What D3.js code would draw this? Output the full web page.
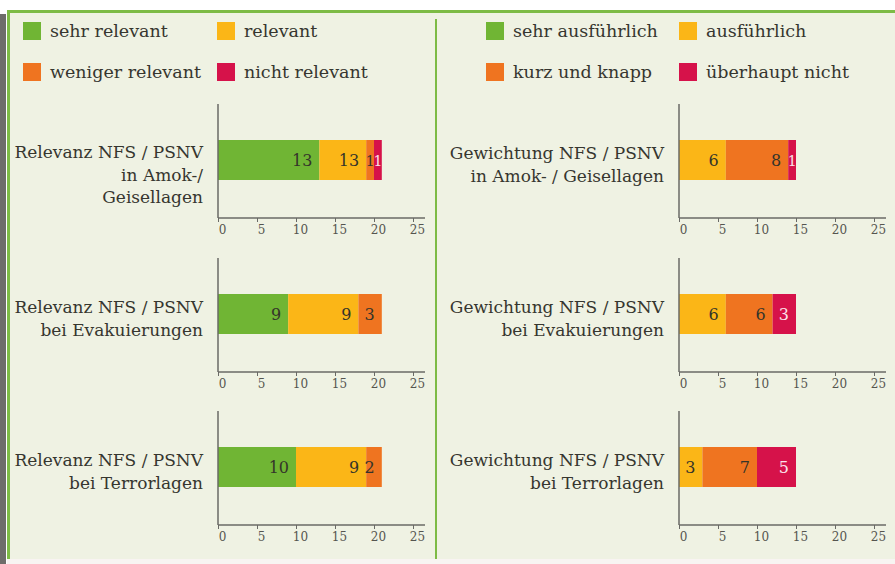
<!DOCTYPE html>
<html>
<head>
<meta charset="utf-8">
<script src="https://cdn.jsdelivr.net/npm/d3@7"></script>
<style>
    body { margin: 0; background: #ffffff; }
    svg { display: block; }
    text { font-family: "DejaVu Serif", serif; }
</style>
</head>
<body>
<div id="chart"></div>
<script>
// legend entries for both panels
var legendLeft = ["sehr relevant", "relevant", "weniger relevant", "nicht relevant"];
var legendRight = ["sehr ausführlich", "ausführlich", "kurz und knapp", "überhaupt nicht"];

// category labels (one array of lines per chart)
var labelsLeft = [
    ["Relevanz NFS / PSNV", "in Amok-/", "Geisellagen"],
    ["Relevanz NFS / PSNV", "bei Evakuierungen"],
    ["Relevanz NFS / PSNV", "bei Terrorlagen"]
];
var labelsRight = [
    ["Gewichtung NFS / PSNV", "in Amok- / Geisellagen"],
    ["Gewichtung NFS / PSNV", "bei Evakuierungen"],
    ["Gewichtung NFS / PSNV", "bei Terrorlagen"]
];

// stacked values: [sehr, mittel, wenig, gar nicht]
var valuesLeft = [
    [13, 6, 1, 1],
    [9, 9, 3, 0],
    [10, 9, 2, 0]
];
var valuesRight = [
    [0, 6, 8, 1],
    [0, 6, 6, 3],
    [0, 3, 7, 5]
];

// numbers printed in the bars (as printed in the original)
var shownLeft = [
    ["13", "13", "1", "1"],
    ["9", "9", "3", ""],
    ["10", "9", "2", ""]
];
var shownRight = [
    ["", "6", "8", "1"],
    ["", "6", "6", "3"],
    ["", "3", "7", "5"]
];

var ticks = [0, 5, 10, 15, 20, 25];

var colors = ["#70b534", "#fbb617", "#ef7420", "#d6124a"];
var textColors = ["#34342a", "#34342a", "#34342a", "#fbe3ea"];

var W = 895, H = 564;

var svg = d3.select("#chart")
    .append("svg")
    .attr("width", W)
    .attr("height", H);

// background + frame
svg.append("rect").attr("x", 0).attr("y", 0).attr("width", W).attr("height", H).attr("fill", "#ffffff");
svg.append("rect").attr("x", 7).attr("y", 10).attr("width", W - 7).attr("height", 549).attr("fill", "#eff2e3");
svg.append("rect").attr("x", 0).attr("y", 14).attr("width", 6).attr("height", H - 14).attr("fill", "#6e6d6a");
svg.append("rect").attr("x", 7).attr("y", 10).attr("width", W - 7).attr("height", 3).attr("fill", "#7dbb45");
svg.append("rect").attr("x", 7).attr("y", 10).attr("width", 3).attr("height", 549).attr("fill", "#7dbb45");
svg.append("rect").attr("x", 7).attr("y", 559).attr("width", W - 7).attr("height", 5).attr("fill", "#f8f4f2");
// divider between the panels
svg.append("line")
    .attr("x1", 436).attr("x2", 436)
    .attr("y1", 19).attr("y2", 559)
    .attr("stroke", "#7dbb45")
    .attr("stroke-width", 2);

// scale: values to pixels (same for every chart)
var x = d3.scaleLinear().domain([0, 25]).range([0, 195]);

var barCenters = [160, 314, 467];
var barH = 40;

function drawLegend(names, x0, x1) {
    var cols = [x0, x1];
    var rows = [22, 63];
    names.forEach(function (name, i) {
        var sx = cols[i % 2], sy = rows[Math.floor(i / 2)];
        svg.append("rect")
            .attr("x", sx).attr("y", sy)
            .attr("width", 18).attr("height", 18)
            .attr("fill", colors[i]);
        svg.append("text")
            .attr("x", sx + 27).attr("y", sy + 15)
            .attr("font-size", "17.5px")
            .attr("fill", "#36362f")
            .text(name);
    });
}

function drawChart(axisX, cy, values, shown, lines) {
    var g = svg.append("g").attr("transform", "translate(" + axisX + ",0)");
    var barTop = cy - barH / 2;
    var axisY = cy + 58;

    // stack the segments
    var acc = 0;
    var segs = values.map(function (v, i) {
        var s = { x0: acc, x1: acc + v, v: v, i: i, label: shown[i] };
        acc += v;
        return s;
    }).filter(function (s) { return s.v > 0; });

    g.selectAll("rect.seg")
        .data(segs)
        .enter()
        .append("rect")
        .attr("class", "seg")
        .attr("x", function (d) { return x(d.x0); })
        .attr("y", barTop)
        .attr("width", function (d) { return x(d.x1) - x(d.x0); })
        .attr("height", barH)
        .attr("fill", function (d) { return colors[d.i]; });

    // value labels, right-aligned in the segment (centered if narrow)
    function narrow(d) { return (x(d.x1) - x(d.x0)) < 12; }
    g.selectAll("text.val")
        .data(segs)
        .enter()
        .append("text")
        .attr("class", "val")
        .attr("x", function (d) {
            return narrow(d) ? (x(d.x0) + x(d.x1)) / 2 : x(d.x1) - 7;
        })
        .attr("y", cy + 6)
        .attr("text-anchor", function (d) { return narrow(d) ? "middle" : "end"; })
        .attr("font-size", function (d) { return narrow(d) ? "14px" : "16px"; })
        .attr("fill", function (d) { return textColors[d.i]; })
        .text(function (d) { return d.label; });

    // x axis
    var axis = g.append("g")
        .attr("transform", "translate(0," + axisY + ")")
        .call(d3.axisBottom(x).tickValues(ticks).tickSize(4).tickSizeOuter(0));
    axis.select(".domain").remove();
    axis.selectAll("line").attr("stroke", "#6a6a66");
    axis.selectAll("text")
        .attr("dx", 4)
        .attr("font-family", "DejaVu Serif, serif")
        .attr("font-size", "12px")
        .attr("fill", "#55554f");

    g.append("line")
        .attr("x1", 0).attr("x2", x(25) + 12)
        .attr("y1", axisY).attr("y2", axisY)
        .attr("stroke", "#6a6a66").attr("stroke-width", 1.5);
    g.append("line")
        .attr("x1", 0).attr("x2", 0)
        .attr("y1", barTop - 36).attr("y2", axisY)
        .attr("stroke", "#6a6a66").attr("stroke-width", 1.5);

    // category label
    var lbl = svg.append("text")
        .attr("text-anchor", "end")
        .attr("font-size", "17px")
        .attr("fill", "#36362f");
    lbl.selectAll("tspan")
        .data(lines)
        .enter()
        .append("tspan")
        .attr("x", axisX - 15)
        .attr("y", function (d, i) {
            return lines.length > 2 ? barTop + 18 + i * 22.5 : cy - 1 + i * 22.5;
        })
        .text(function (d) { return d; });
}

drawLegend(legendLeft, 23, 217);
drawLegend(legendRight, 486, 679);

barCenters.forEach(function (cy, i) {
    drawChart(218, cy, valuesLeft[i], shownLeft[i], labelsLeft[i]);
    drawChart(679, cy, valuesRight[i], shownRight[i], labelsRight[i]);
});
</script>
</body>
</html>
